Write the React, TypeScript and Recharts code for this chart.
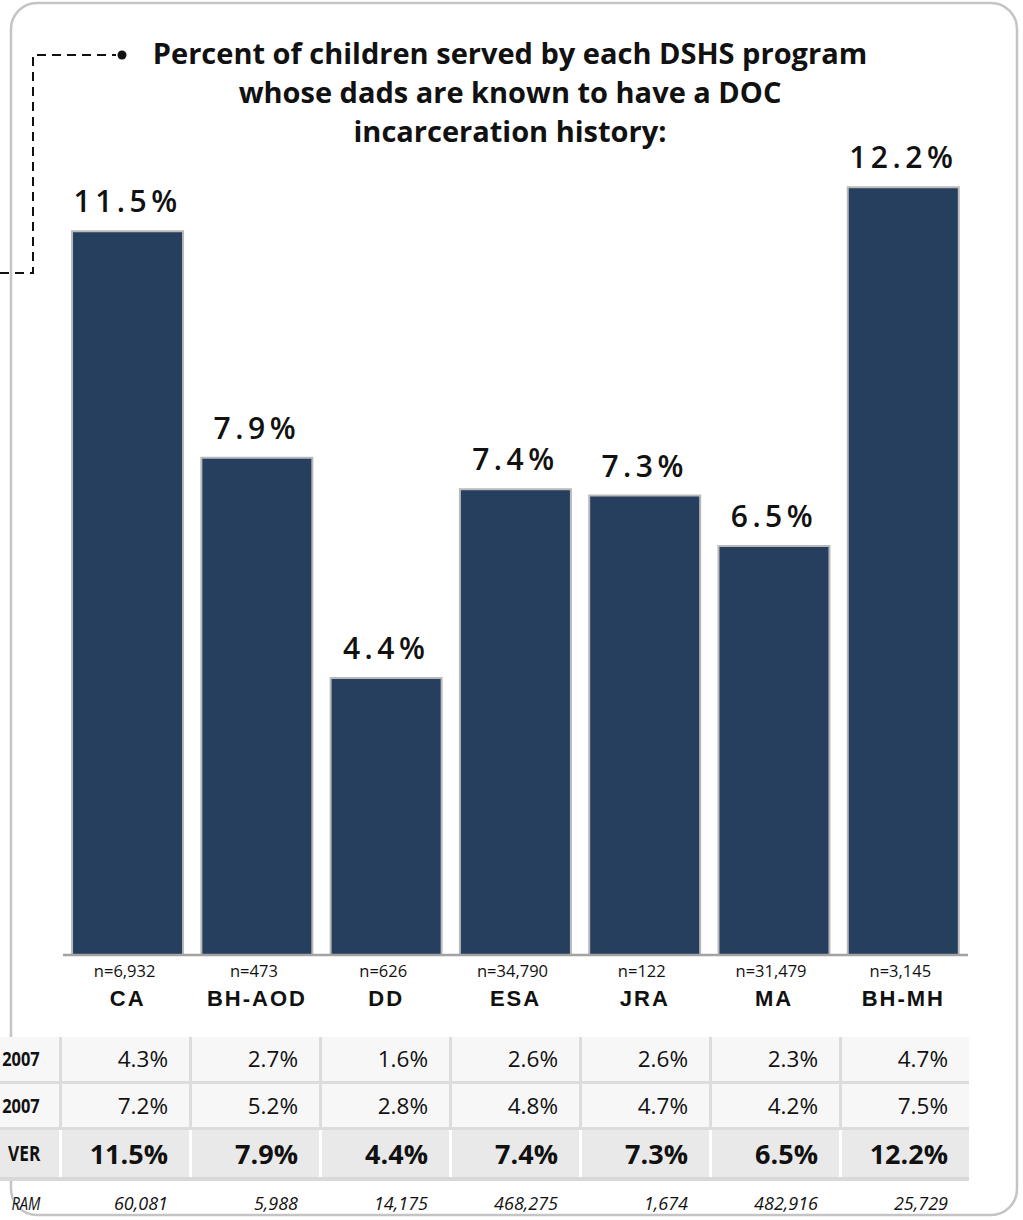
import React from "react";
import { BarChart, Bar, XAxis, YAxis, LabelList } from "recharts";

// chart values
const programs = ["CA", "BH-AOD", "DD", "ESA", "JRA", "MA", "BH-MH"];
const sampleSizes = ["n=6,932", "n=473", "n=626", "n=34,790", "n=122", "n=31,479", "n=3,145"];
const everPct = [11.5, 7.9, 4.4, 7.4, 7.3, 6.5, 12.2];

// table values
const row1Pct = [4.3, 2.7, 1.6, 2.6, 2.6, 2.3, 4.7];
const row2Pct = [7.2, 5.2, 2.8, 4.8, 4.7, 4.2, 7.5];
const programTotals = ["60,081", "5,988", "14,175", "468,275", "1,674", "482,916", "25,729"];
const rowLabels = ["2007", "2007", "VER", "RAM"];

const titleLines = [
  "Percent of children served by each DSHS program",
  "whose dads are known to have a DOC",
  "incarceration history:",
];

const data = programs.map((p, i) => ({ program: p, n: sampleSizes[i], ever: everPct[i] }));

const FONT = "'Open Sans', sans-serif";
const pct = (v: number) => `${v.toFixed(1)}%`;

const ProgramTick = (props: any) => {
  const { x, y, index, payload } = props;
  return (
    <g>
      <text x={x - 3} y={y + 15} textAnchor="middle" dominantBaseline="central"
        fontFamily={FONT} fontSize={16.5} fill="#111">
        {sampleSizes[index]}
      </text>
      <text x={x} y={y + 43} textAnchor="middle" dominantBaseline="central"
        fontFamily="'Liberation Sans', Arial, sans-serif" fontWeight="bold" fontSize={22}
        letterSpacing={2} fill="#111">
        {payload.value}
      </text>
    </g>
  );
};

type RowProps = {
  top: number;
  height: number;
  label: string;
  cells: string[];
  bg: string;
  gap: string;
  font: React.CSSProperties;
  labelFont: React.CSSProperties;
};

const TableRow = ({ top, height, label, cells, bg, gap, font, labelFont }: RowProps) => (
  <div style={{ position: "absolute", left: 0, top, height, width: 969, display: "flex", gap: 3, background: gap }}>
    <div style={{ width: 59, flex: "none", background: bg, position: "relative", overflow: "hidden" }}>
      <span style={{ position: "absolute", right: 19, top: 0, lineHeight: `${height}px`, fontFamily: FONT,
        color: "#111", whiteSpace: "nowrap", transform: "scaleX(0.82)", transformOrigin: "right center", ...labelFont }}>
        {label}
      </span>
    </div>
    {cells.map((c, i) => (
      <div key={i} style={{ width: 127, flex: "none", background: bg, textAlign: "right", paddingRight: 21,
        boxSizing: "border-box", lineHeight: `${height}px`, fontFamily: FONT, color: "#111", ...font }}>
        {c}
      </div>
    ))}
  </div>
);

export default function App() {
  return (
    <div style={{ position: "absolute", left: 0, top: 0, width: 1023, height: 1220, background: "#fff", overflow: "hidden" }}>
      <svg width={1023} height={1220} style={{ position: "absolute", left: 0, top: 0 }}>
        <rect x={11} y={3} width={1006} height={1212} rx={26} fill="none" stroke="#c4c4c4" strokeWidth={2.5} />
        <path d="M0 273 H33 V55 H116" fill="none" stroke="#111" strokeWidth={2} strokeDasharray="9 6" />
        <circle cx={122} cy={55} r={4.5} fill="#111" />
      </svg>

      {titleLines.map((t, i) => (
        <div key={i} style={{ position: "absolute", left: 110, width: 800, top: 33 + i * 39, textAlign: "center",
          fontFamily: FONT, fontWeight: 700, fontSize: 29, lineHeight: "39px", color: "#111", whiteSpace: "nowrap" }}>
          {t}
        </div>
      ))}

      <div style={{ position: "absolute", left: 0, top: 0 }}>
        <BarChart width={1023} height={1030} data={data} margin={{ top: 74, right: 55, bottom: 0, left: 63 }}
          barCategoryGap="7%">
          <YAxis hide domain={[0, 14]} />
          <XAxis dataKey="program" height={75} interval={0} tickLine={false} tickSize={0} tickMargin={0}
            axisLine={{ stroke: "#a3a3a3", strokeWidth: 2.5 }} tick={<ProgramTick />} />
          <Bar dataKey="ever" fill="#263f5f" stroke="#b9b9b9" strokeWidth={2} isAnimationActive={false}>
            <LabelList dataKey="ever" position="top" offset={19} formatter={(v: any) => pct(Number(v))}
              fontFamily={FONT} fontWeight={600} fontSize={30} letterSpacing={4.5} fill="#111" />
          </Bar>
        </BarChart>
      </div>

      <TableRow top={1037} height={44} label={rowLabels[0]} cells={row1Pct.map(pct)} bg="#f7f7f7" gap="#dcdcdc"
        font={{ fontSize: 22.5 }} labelFont={{ fontSize: 20, fontWeight: 700 }} />
      <div style={{ position: "absolute", left: 0, top: 1081, width: 969, height: 3, background: "#dcdcdc" }} />
      <TableRow top={1084} height={43} label={rowLabels[1]} cells={row2Pct.map(pct)} bg="#f7f7f7" gap="#dcdcdc"
        font={{ fontSize: 22.5 }} labelFont={{ fontSize: 20, fontWeight: 700 }} />
      <div style={{ position: "absolute", left: 0, top: 1127, width: 969, height: 3, background: "#dcdcdc" }} />
      <TableRow top={1130} height={47} label={rowLabels[2]} cells={everPct.map(pct)} bg="#e9e9e9" gap="#ffffff"
        font={{ fontSize: 27, fontWeight: 700 }} labelFont={{ fontSize: 21, fontWeight: 700 }} />
      <div style={{ position: "absolute", left: 0, top: 1177, width: 969, height: 4, background: "#d9d9d9" }} />
      <TableRow top={1183} height={40} label={rowLabels[3]} cells={programTotals} bg="transparent" gap="transparent"
        font={{ fontSize: 18, fontStyle: "italic" }} labelFont={{ fontSize: 18, fontStyle: "italic" }} />
    </div>
  );
}
